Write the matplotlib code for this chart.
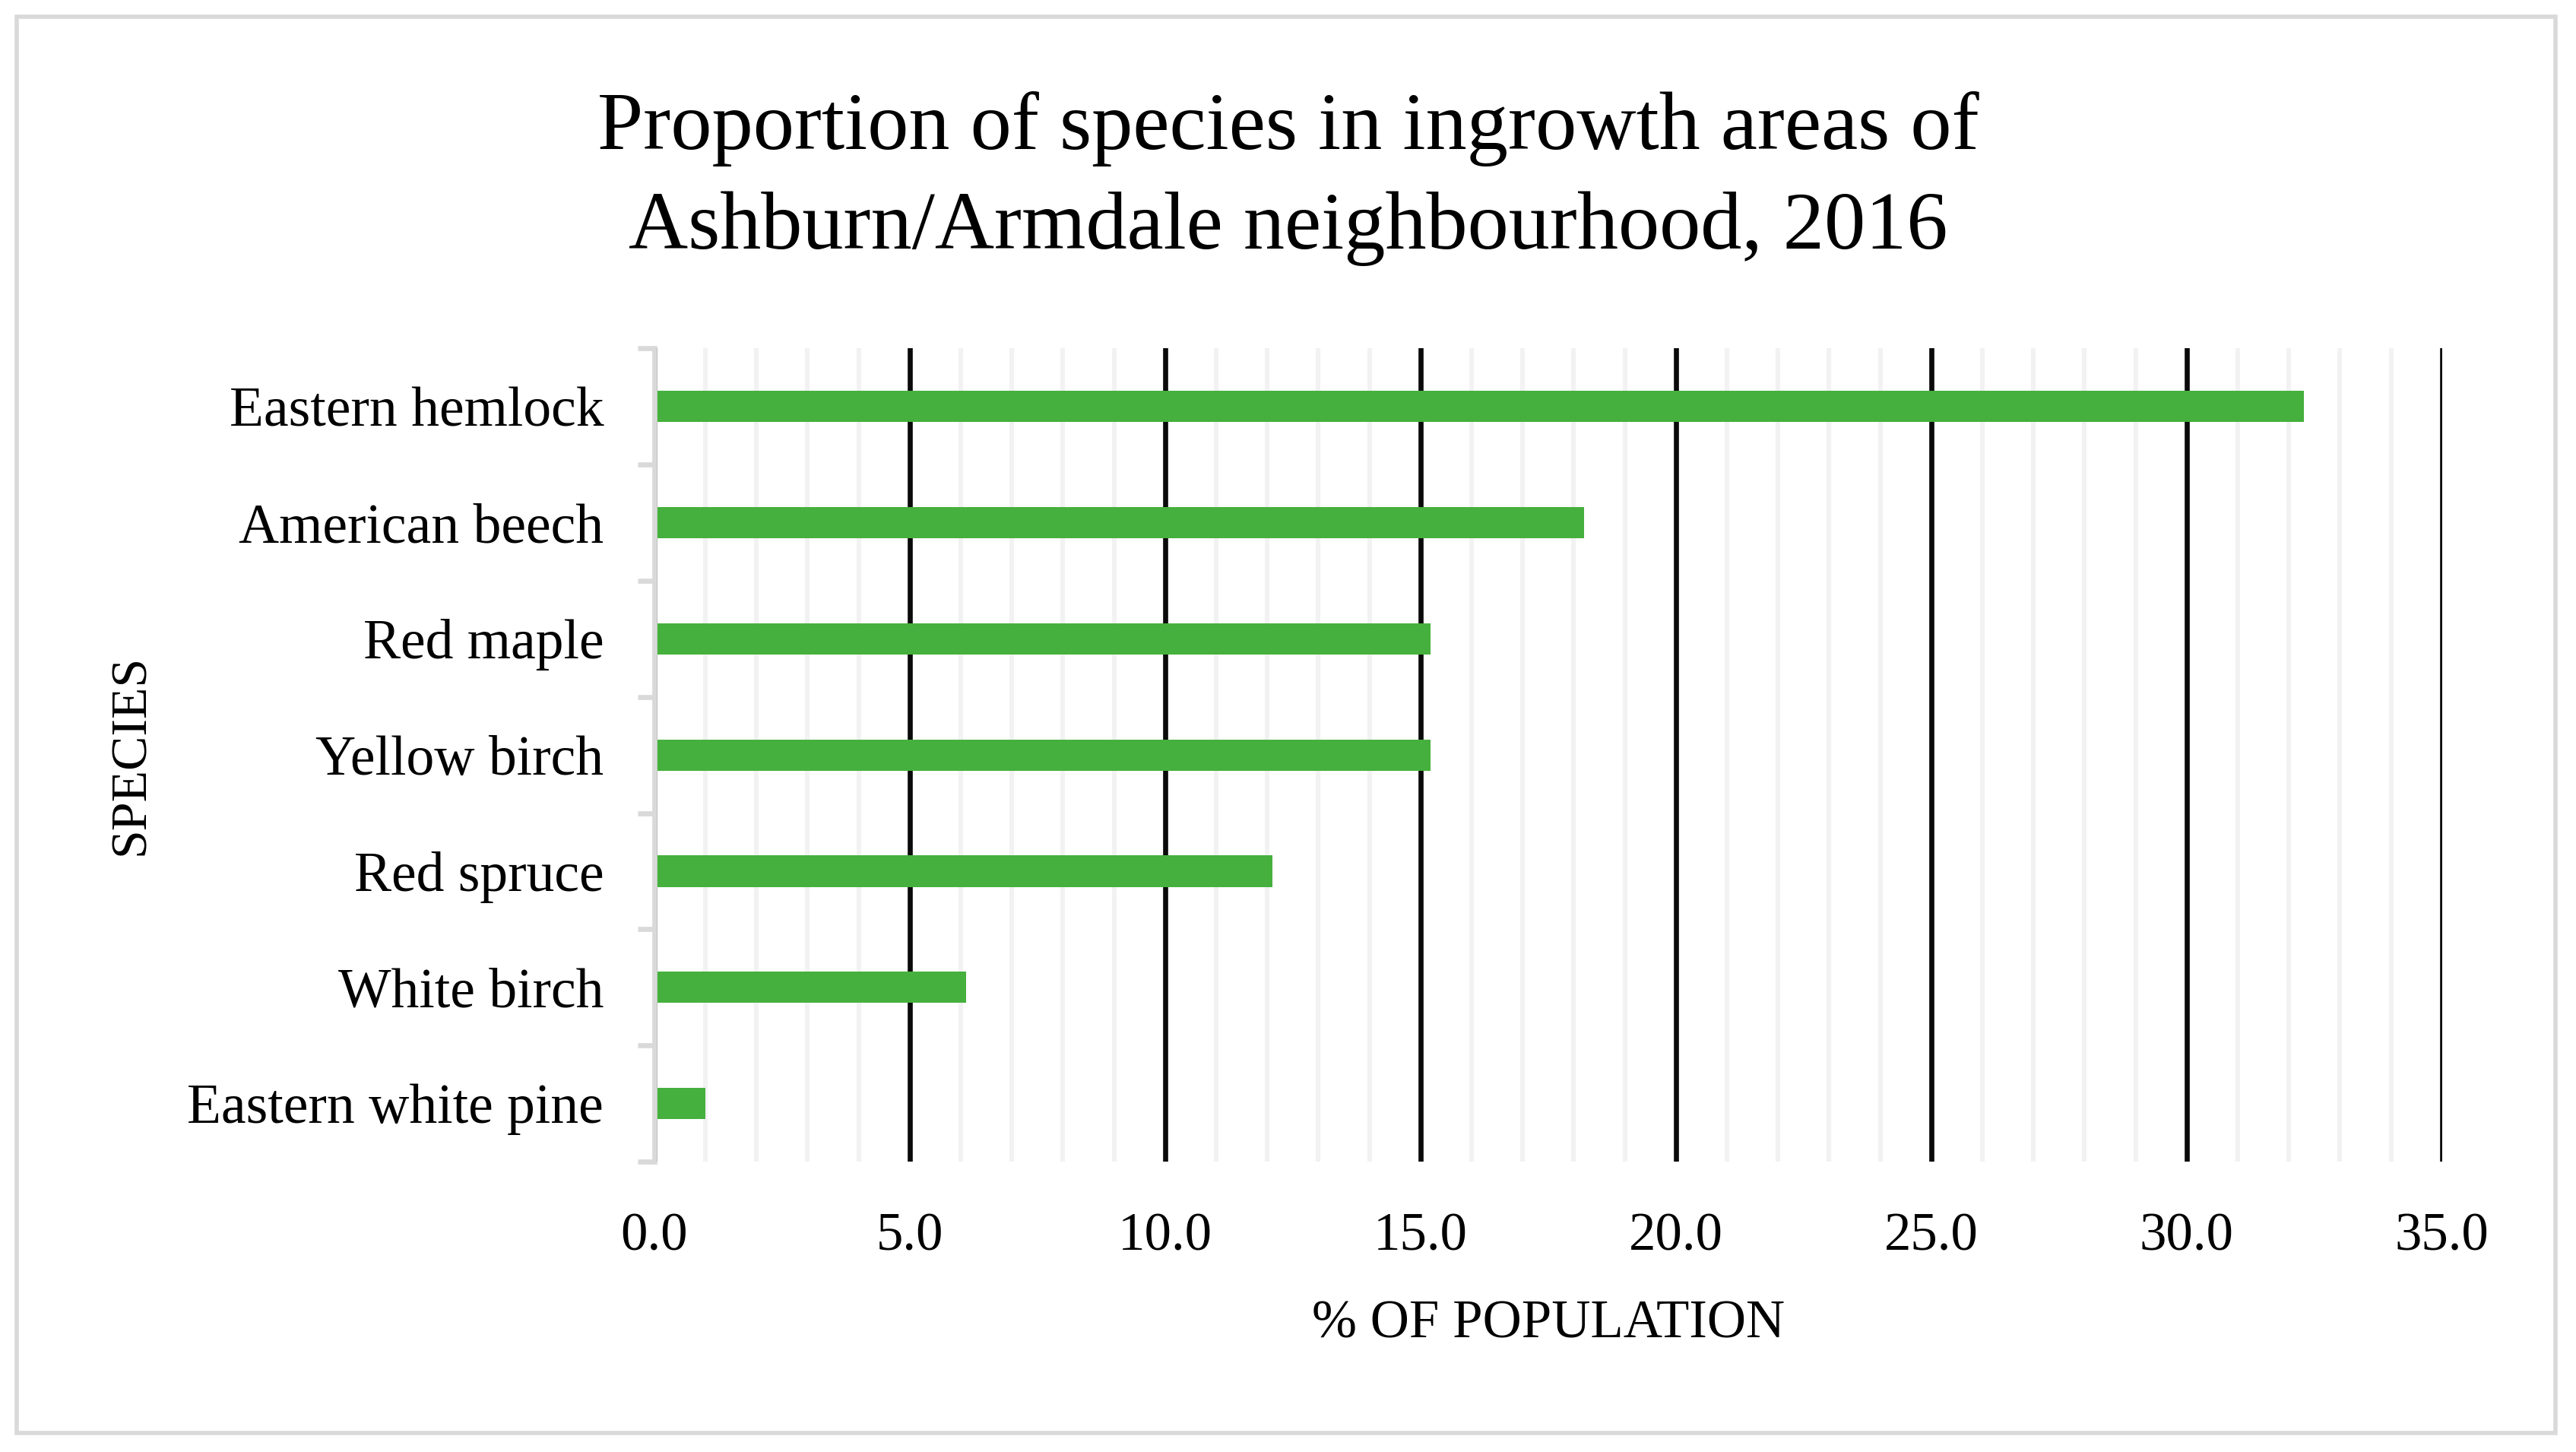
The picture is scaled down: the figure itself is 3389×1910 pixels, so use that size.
import numpy as np
import matplotlib
matplotlib.use("Agg")
import matplotlib.pyplot as plt
from matplotlib.patches import Rectangle
from matplotlib.ticker import MultipleLocator, FixedLocator

# data (% of population)
species = ["Eastern hemlock", "American beech", "Red maple", "Yellow birch",
           "Red spruce", "White birch", "Eastern white pine"]
percent = [32.3, 18.2, 15.2, 15.2, 12.1, 6.1, 1.0]
x_ticks = [0, 5, 10, 15, 20, 25, 30, 35]
x_tick_labels = ["%.1f" % t for t in x_ticks]

title = "Proportion of species in ingrowth areas of\nAshburn/Armdale neighbourhood, 2016"

plt.rcParams['font.family'] = ['Liberation Serif', 'DejaVu Serif']

fig = plt.figure(figsize=(33.89, 19.10), dpi=100)
ax = fig.add_axes([0.254, 0.20, 0.694, 0.56])

y = np.arange(len(species))
ax.barh(y, percent, height=0.27, color='#45B03D', zorder=3)

ax.set_xlim(0, 35)
ax.set_ylim(len(species) - 0.5, -0.5)

ax.set_xticks(x_ticks)
ax.set_xticklabels(x_tick_labels)
ax.xaxis.set_minor_locator(MultipleLocator(1))
ax.tick_params(axis='x', which='both', length=0, labelsize=51, pad=48)

ax.set_yticks(y)
ax.set_yticklabels(species)
ax.yaxis.set_minor_locator(FixedLocator(np.arange(-0.5, len(species), 1)))
ax.tick_params(axis='y', which='major', length=0, labelsize=53, pad=48)
ax.tick_params(axis='y', which='minor', length=16, width=4.8, color='#d9d9d9',
               direction='out')

ax.set_axisbelow(True)
ax.grid(axis='x', which='major', color='#0a0a0a', linewidth=4.8)
ax.grid(axis='x', which='minor', color='#f2f2f2', linewidth=4.4)
ax.grid(axis='y', visible=False)

for side in ['top', 'right', 'bottom']:
    ax.spines[side].set_visible(False)
ax.spines['left'].set_color('#d9d9d9')
ax.spines['left'].set_linewidth(4.8)
ax.spines['left'].set_zorder(4)

fig.text(0.5, 0.877, title, ha='center', va='center', fontsize=78,
         linespacing=1.42)
fig.text(0.601, 0.088, "% OF POPULATION", ha='center', va='center', fontsize=51)
fig.text(0.051, 0.48, "SPECIES", ha='center', va='center', fontsize=49,
         rotation=90)

fig.patches.append(Rectangle((0.0065, 0.013), 0.9855, 0.9755,
                             transform=fig.transFigure, fill=False,
                             edgecolor='#d9d9d9', linewidth=4))

fig.savefig("out.png", dpi=100, facecolor='white')
